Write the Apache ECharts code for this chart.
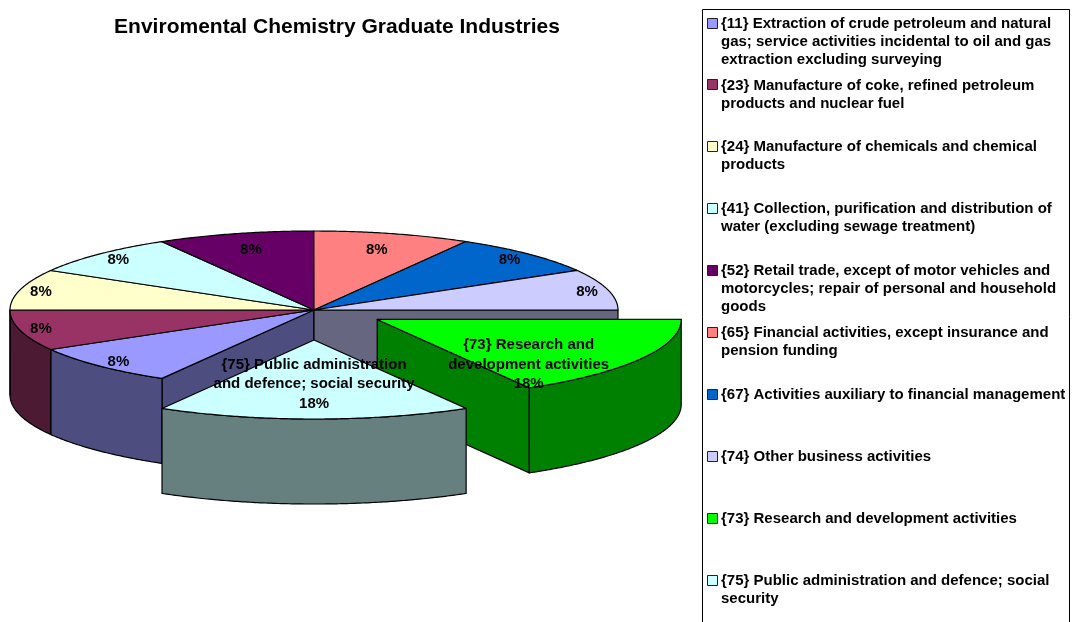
<!DOCTYPE html>
<html>
<head>
<meta charset="utf-8">
<style>html,body{margin:0;padding:0;background:#fff}#c{width:1072px;height:622px}</style>
<script src="https://cdn.jsdelivr.net/npm/echarts@6/dist/echarts.min.js"></script>
</head>
<body>
<div id="c"></div>
<script>
// ---- data ----
const legendLabels = [
  "{11} Extraction of crude petroleum and natural\ngas; service activities incidental to oil and gas\nextraction excluding surveying",
  "{23} Manufacture of coke, refined petroleum\nproducts and nuclear fuel",
  "{24} Manufacture of chemicals and chemical\nproducts",
  "{41} Collection, purification and distribution of\nwater (excluding sewage treatment)",
  "{52} Retail trade, except of motor vehicles and\nmotorcycles; repair of personal and household\ngoods",
  "{65} Financial activities, except insurance and\npension funding",
  "{67} Activities auxiliary to financial management",
  "{74} Other business activities",
  "{73} Research and development activities",
  "{75} Public administration and defence; social\nsecurity"
];
// slice sizes as drawn (share of the full circle, %)
const sliceShares = [8.33, 8.33, 8.33, 8.33, 8.33, 8.33, 8.33, 8.33, 16.67, 16.67];
// labels as printed on the slices
const sliceLabels = ["8%","8%","8%","8%","8%","8%","8%","8%",
  "{73} Research and\ndevelopment activities\n18%",
  "{75} Public administration\nand defence; social security\n18%"];
const sliceColors = ["#9999FF","#993366","#FFFFCC","#CCFFFF","#660066","#FF8080","#0066CC","#CCCCFF","#00FF00","#CCFFFF"];
const explodeFractions = [0,0,0,0,0,0,0,0,0.24,0.38];

// ---- layout ----
const center = [314, 310], rx = 304, ry = 79, depth = 85, startDeg = 210;
// label anchor as fractions of the slice's radii along its mid angle [x, y]
const labelFractions = [[.91,.93],[.93,.93],[.93,.88],[.91,.895],[.8,.786],[.8,.786],[.91,.895],[.93,.88],[.575,1.14],[.56,.56]];
const FONT = '"Liberation Sans", Arial, sans-serif';

const total = sliceShares.reduce((a, b) => a + b, 0);
const starts = [];
sliceShares.reduce((acc, v, i) => { starts[i] = acc; return acc + v / total * 360; }, startDeg);

function halfTone(hex) {
  const n = parseInt(hex.slice(1), 16);
  const c = s => Math.round(((n >> s) & 255) / 2).toString(16).padStart(2, '0');
  return '#' + c(16) + c(8) + c(0);
}
const rad = d => d * Math.PI / 180;
function pt(cx, cy, deg, down) {
  return [cx + rx * Math.sin(rad(deg)), cy - ry * Math.cos(rad(deg)) + (down || 0)];
}
function arc(cx, cy, a, b, down) {
  const out = [], n = Math.max(2, Math.ceil(Math.abs(b - a) * 2));
  for (let i = 0; i <= n; i++) out.push(pt(cx, cy, a + (b - a) * i / n, down));
  return out;
}
const norm = d => ((d % 360) + 360) % 360;

function renderSlice(params, api) {
  const i = params.dataIndex;
  const share = api.value(0);
  const ex = explodeFractions[i];
  const a0 = norm(starts[i]), a1 = a0 + share / total * 360;
  const mid = (a0 + a1) / 2;
  const cx = center[0] + ex * rx * Math.sin(rad(mid));
  const cy = center[1] - ex * ry * Math.cos(rad(mid));
  const color = sliceColors[i], side = halfTone(color);
  const n = sliceShares.length;
  const base = ex > 0 ? 1 + 2 * (i - 7) : 1;   // later exploded slices sit in front
  const kids = [];
  const poly = (points, fill, z) => ({
    type: 'polygon', shape: { points }, z2: z,
    style: { fill, stroke: '#000', lineWidth: 1.2, lineJoin: 'round' }
  });
  const gapAfter = ex > 0 || explodeFractions[(i + 1) % n] > 0;
  const gapBefore = ex > 0 || explodeFractions[(i + n - 1) % n] > 0;
  // radial walls that face the viewer next to a gap
  if (gapAfter && Math.sin(rad(a1)) > 1e-6) {
    const e = pt(cx, cy, a1);
    kids.push(poly([[cx, cy], e, [e[0], e[1] + depth], [cx, cy + depth]], side, base));
  }
  if (gapBefore && Math.sin(rad(a0)) < -1e-6) {
    const e = pt(cx, cy, a0);
    kids.push(poly([[cx, cy], e, [e[0], e[1] + depth], [cx, cy + depth]], side, base));
  }
  // outer wall: the part of the rim on the near half of the ellipse
  const lo = Math.max(a0, 90), hi = Math.min(a1, 270);
  if (hi > lo) {
    kids.push(poly(arc(cx, cy, lo, hi, 0).concat(arc(cx, cy, hi, lo, depth)), side, base));
  }
  // top face
  kids.push(poly([[cx, cy]].concat(arc(cx, cy, a0, a1, 0)), color, base + 1));
  // percentage label
  const f = labelFractions[i];
  kids.push({
    type: 'text', z2: 20,
    style: {
      text: sliceLabels[i],
      x: cx + f[0] * rx * Math.sin(rad(mid)),
      y: cy - f[1] * ry * Math.cos(rad(mid)),
      align: 'center', verticalAlign: 'middle',
      font: 'bold 15px ' + FONT, lineHeight: 19.7, fill: '#000'
    }
  });
  return { type: 'group', children: kids };
}

const legendBox = { x: 702, y: 9, width: 367, height: 640 };
const legendFirst = 23.5, legendStep = 61.9;
function renderLegend(params, api) {
  const i = params.dataIndex;
  const y = legendFirst + legendStep * api.value(0);
  return {
    type: 'group',
    children: [
      { type: 'rect', shape: { x: 707.5, y: Math.round(y) - 5.5, width: 10, height: 10 },
        style: { fill: sliceColors[i], stroke: '#222', lineWidth: 1 } },
      { type: 'text',
        style: { text: legendLabels[i], x: 721, y: y - 9, align: 'left', verticalAlign: 'top',
                 font: 'bold 15px ' + FONT, lineHeight: 18, fill: '#000' } }
    ]
  };
}

const chart = echarts.init(document.getElementById('c'), null, { renderer: 'canvas' });
chart.setOption({
  animation: false,
  backgroundColor: '#fff',
  title: {
    text: 'Enviromental Chemistry Graduate Industries',
    left: 332, top: 12, textAlign: 'center',
    textStyle: { fontFamily: FONT, fontSize: 21, fontWeight: 'bold', color: '#000' }
  },
  graphic: [{
    type: 'rect', z: 0,
    shape: { x: legendBox.x + .5, y: legendBox.y + .5, width: legendBox.width, height: legendBox.height },
    style: { fill: '#fff', stroke: '#000', lineWidth: 1 }
  }],
  series: [
    { type: 'custom', name: 'Industries', coordinateSystem: 'none', renderItem: renderSlice,
      data: sliceShares.map(v => [v]), silent: true, z: 2 },
    { type: 'custom', name: 'Legend', coordinateSystem: 'none', renderItem: renderLegend,
      data: legendLabels.map((_, i) => [i]), silent: true, z: 3 }
  ]
});
</script>
</body>
</html>
